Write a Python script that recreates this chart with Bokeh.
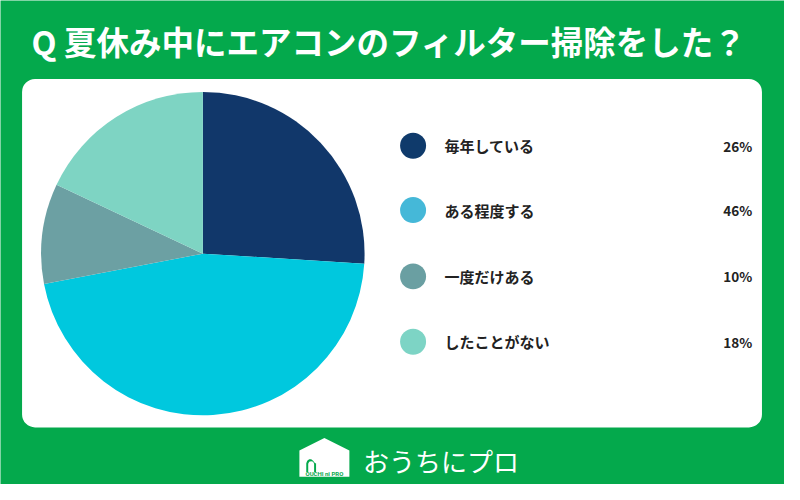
import math
from bokeh.plotting import figure
from bokeh.models import Range1d, BoxAnnotation, ColumnDataSource
from bokeh.core.properties import value
from bokeh.embed import file_html
from bokeh.resources import INLINE

# ---- data ----
title = "Q 夏休み中にエアコンのフィルター掃除をした？"
categories = ["毎年している", "ある程度する", "一度だけある", "したことがない"]
percents = [26, 46, 10, 18]
pie_colors = ["#11376a", "#00c8de", "#6ca0a3", "#7ed4c3"]
legend_colors = ["#0f3a6b", "#45b8d8", "#6a9fa2", "#7dd4c5"]
brand = "おうちにプロ"
brand_small = "OUCHI ni PRO"

GREEN = "#04a94c"
H = 500  # reference height, used to flip y


def Y(v):
    return H - v


p = figure(width=784, height=484, output_backend="svg", toolbar_location=None,
           x_range=Range1d(0, 800), y_range=Range1d(0, 500),
           min_border=0, border_fill_color=GREEN, background_fill_color=GREEN,
           outline_line_color=None)
p.axis.visible = False
p.grid.visible = False

# white rounded panel
p.add_layout(BoxAnnotation(left=22, right=777, top=Y(81), bottom=Y(441),
                           fill_color="white", fill_alpha=1.0, line_color=None,
                           border_radius=13, level="underlay"))

# pie
total = sum(percents)
starts, ends = [], []
cum = 0
for v in percents:
    a0 = math.pi / 2 - 2 * math.pi * cum / total
    cum += v
    a1 = math.pi / 2 - 2 * math.pi * cum / total
    starts.append(a0)
    ends.append(a1)
src = ColumnDataSource(dict(start=starts, end=ends, color=pie_colors))
p.wedge(x=206.5, y=Y(261.5), radius=165, start_angle="start", end_angle="end",
        direction="clock", fill_color="color", line_color=None, source=src)

# legend
rows_y = [Y(150), Y(216.5), Y(285), Y(352.5)]
p.scatter(x=[421] * 4, y=rows_y, size=26, fill_color=legend_colors, line_color=None)
p.text(x=[453] * 4, y=rows_y, text=categories, text_font=value("Noto Sans CJK JP"),
       text_font_style="bold", text_font_size="15px", text_color="#222222",
       text_align="left", text_baseline="middle")
p.text(x=[767] * 4, y=rows_y, text=[f"{v}%" for v in percents],
       text_font=value("Noto Sans CJK JP"), text_font_style="bold",
       text_font_size="13.5px", text_color="#222222",
       text_align="right", text_baseline="middle")

# title
p.text(x=[396.5], y=[Y(41)], text=[title], text_font=value("Noto Sans CJK JP"),
       text_font_style="bold", text_font_size="32.5px", text_color="white",
       text_align="center", text_baseline="middle")

# brand logo: house
hx = [305, 305, 330.5, 356, 356]
hy = [Y(492), Y(465), Y(452), Y(465), Y(492)]
p.patch(x=hx, y=hy, fill_color="white", line_color=None)
# door arch
p.patch(x=[312, 312, 313, 315, 317, 319, 321, 322, 322, 320, 320, 319, 317, 315, 314, 314],
        y=[Y(487), Y(478), Y(475.5), Y(474), Y(474), Y(475.5), Y(478), Y(478), Y(487),
           Y(487), Y(478.5), Y(476.5), Y(476), Y(476.5), Y(478.5), Y(487)],
        fill_color=GREEN, line_color=None)
p.text(x=[330.5], y=[Y(489)], text=[brand_small], text_font=value("Roboto"),
       text_font_style="bold", text_font_size="6px", text_color=GREEN,
       text_align="center", text_baseline="middle")
p.text(x=[370], y=[Y(475)], text=[brand], text_font=value("Noto Sans CJK JP"),
       text_font_size="26px", text_color="white",
       text_align="left", text_baseline="middle")

open("out.html", "w").write(file_html(p, INLINE))
